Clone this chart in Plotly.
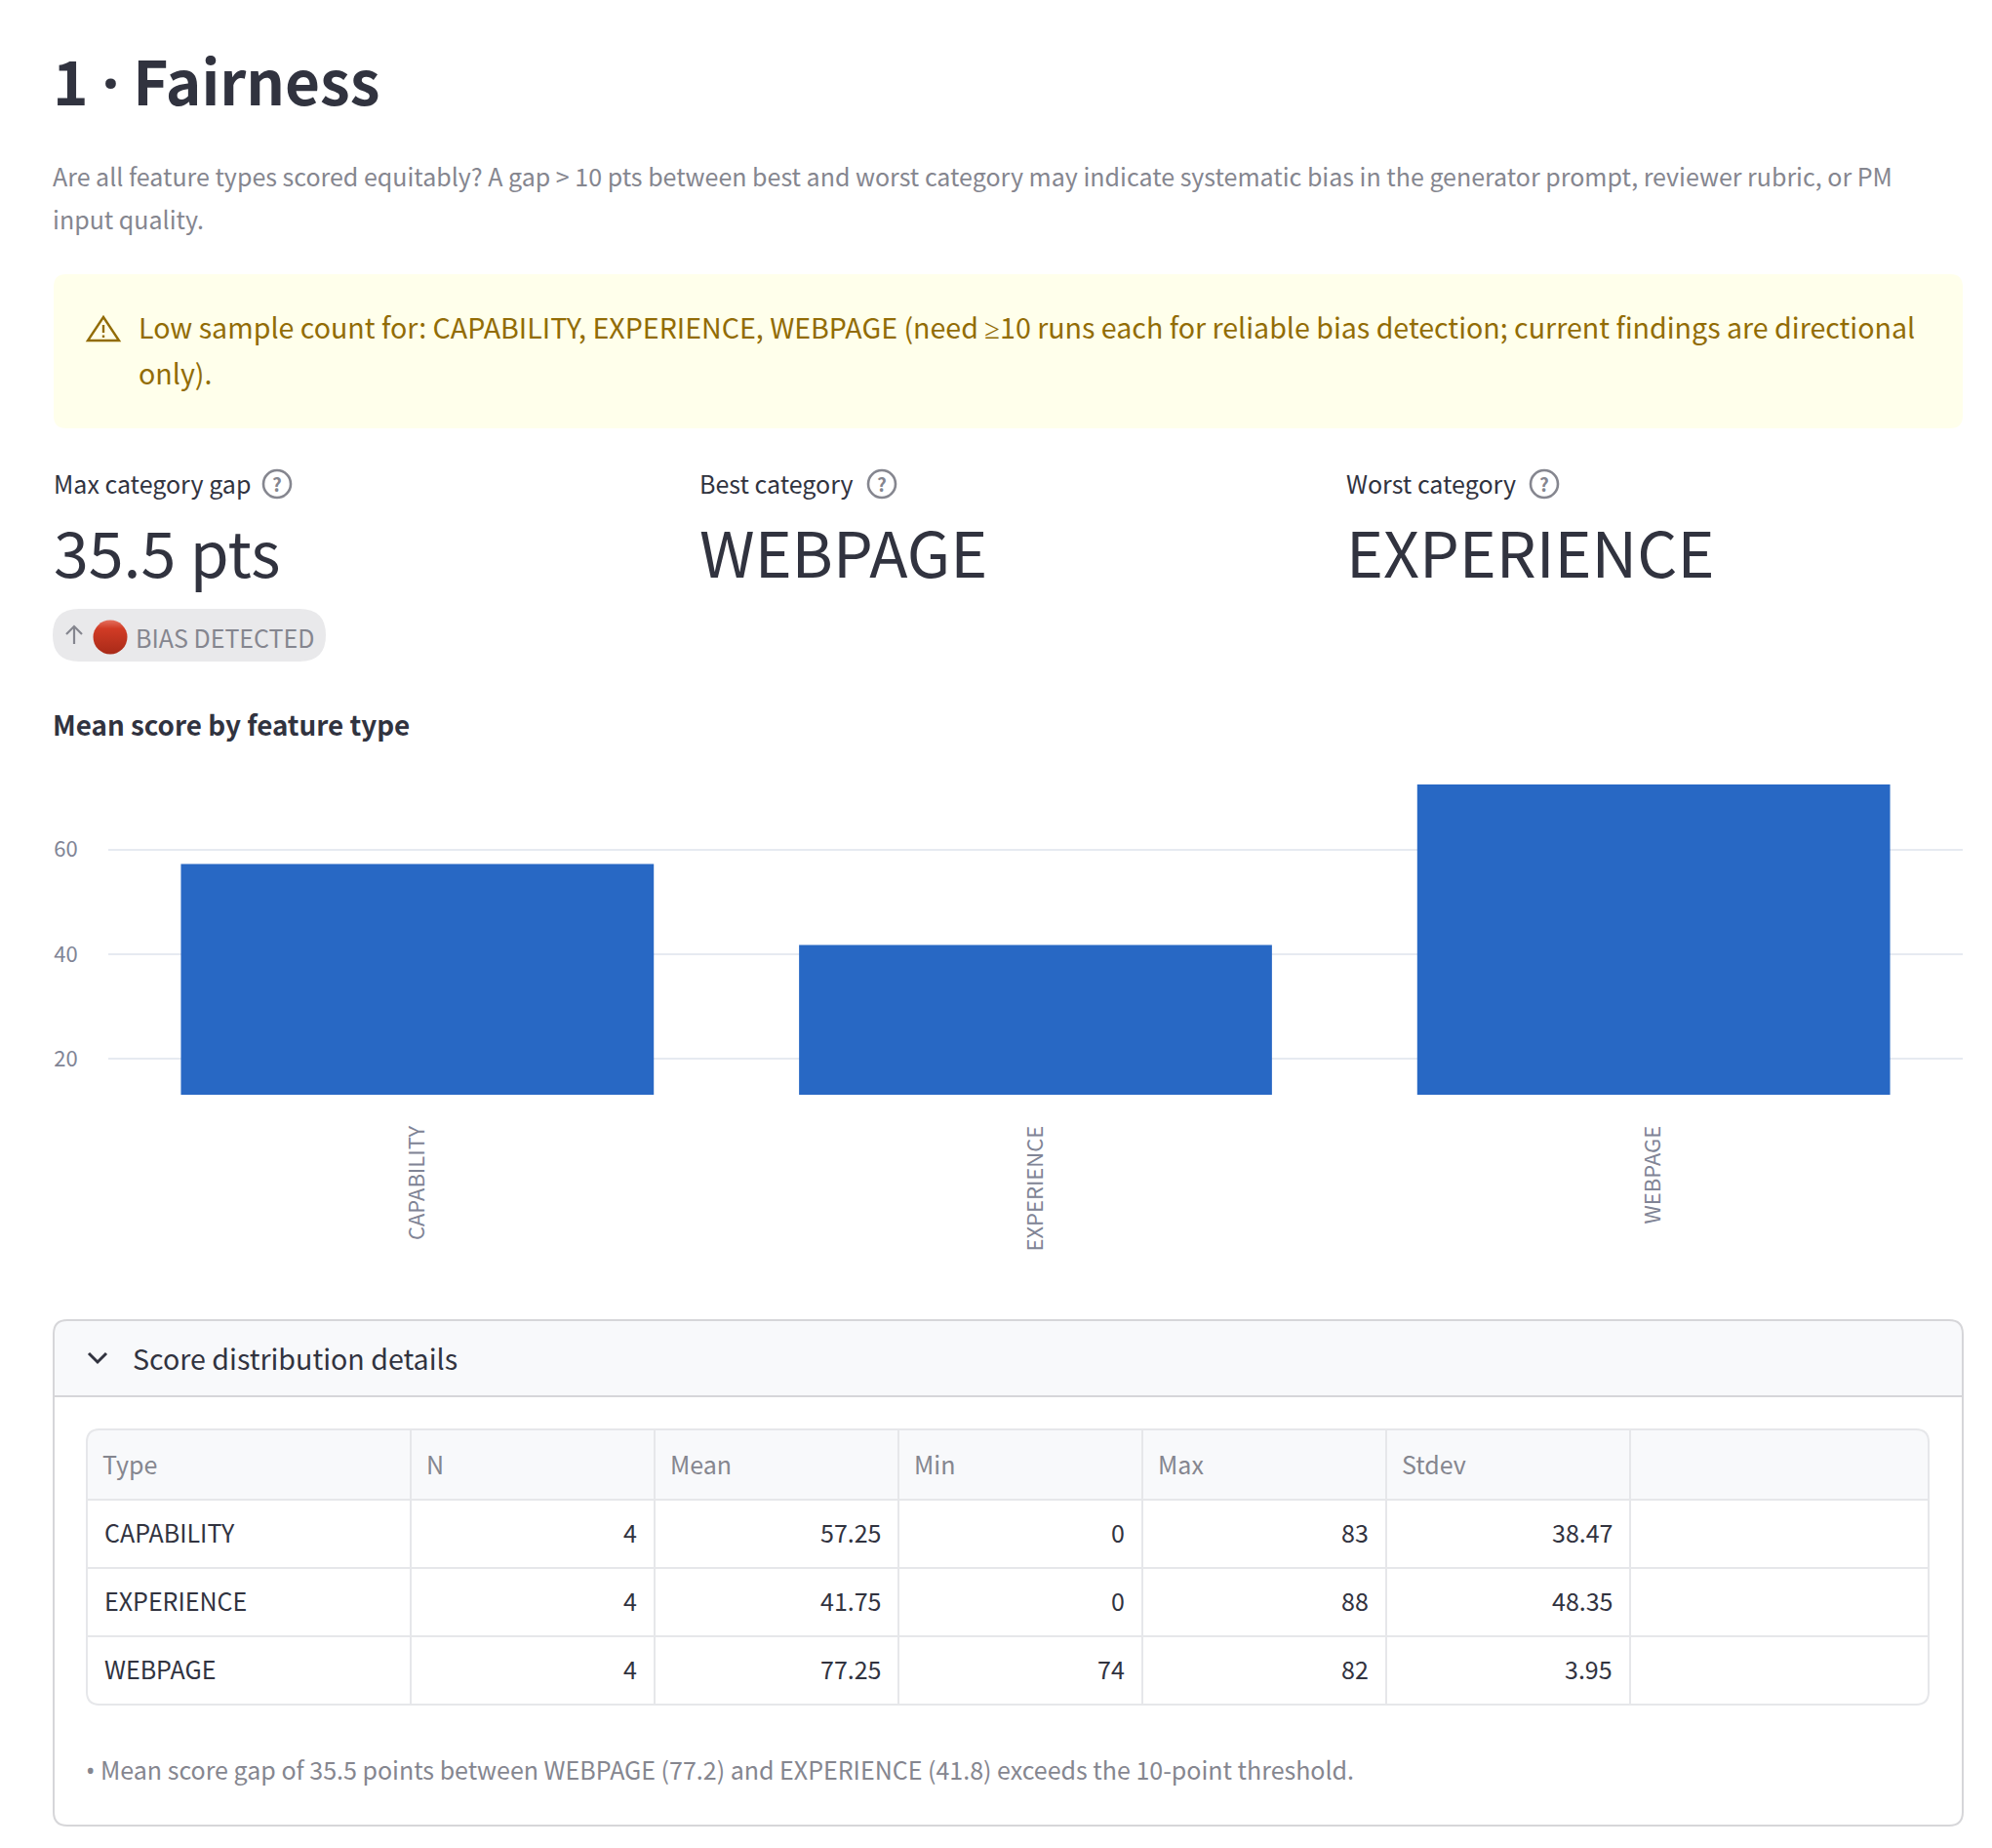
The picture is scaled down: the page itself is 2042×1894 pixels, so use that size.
import plotly.graph_objects as go

# Feature-type score summary
categories = ["CAPABILITY", "EXPERIENCE", "WEBPAGE"]
run_counts = [4, 4, 4]
mean_scores = [57.25, 41.75, 77.25]
min_scores = [0, 0, 74]
max_scores = [83, 88, 82]
stdev_scores = [38.47, 48.35, 3.95]
table_headers = ["Type", "N", "Mean", "Min", "Max", "Stdev", ""]
y_ticks = [20, 40, 60]
y_window = [13.1, 72.45]

FONT = "Noto Sans CJK SC"
LATIN = "Noto Sans"


def latin(glyph):
    """Punctuation the CJK face sets full-width is taken from a Latin face."""
    return f'<span style="font-family:\'{LATIN}\'">{glyph}</span>'


page_title = f"1 {latin('·')} Fairness"
intro_lines = [
    "Are all feature types scored equitably? A gap > 10 pts between best and worst category may indicate systematic bias in the generator prompt, reviewer rubric, or PM",
    "input quality.",
]
alert_lines = [
    f"Low sample count for: CAPABILITY, EXPERIENCE, WEBPAGE (need {latin('≥')}10 runs each for reliable bias detection; current findings are directional",
    "only).",
]
metric_labels = ["Max category gap", "Best category", "Worst category"]
metric_values = ["35.5 pts", "WEBPAGE", "EXPERIENCE"]
badge_text = "BIAS DETECTED"
chart_title = "Mean score by feature type"
details_title = "Score distribution details"
footnote = f"{latin('•')} Mean score gap of 35.5 points between WEBPAGE (77.2) and EXPERIENCE (41.8) exceeds the 10-point threshold."

W, H = 2042, 1894
INK = "#31333f"
MUTED = "#85868f"
TICK = "#808495"
GRID = "#e6eaf1"
EDGE = "#d6d6d9"
CELL_EDGE = "#e6e7ea"
HEAD_FILL = "#f8f9fb"
BODY_SIZE = 25


def px(x):
    return x / W


def py(y):
    return 1 - y / H


def round_rect(x0, y0, x1, y1, r, corners="tl tr br bl"):
    """SVG path in paper coordinates for a rectangle with selected rounded corners."""
    c = corners.split()
    tl, tr, br, bl = [r if k in c else 0 for k in ("tl", "tr", "br", "bl")]
    P = lambda x, y: f"{px(x):.6f},{py(y):.6f}"
    return (
        f"M{P(x0 + tl, y0)} L{P(x1 - tr, y0)} Q{P(x1, y0)} {P(x1, y0 + tr)} "
        f"L{P(x1, y1 - br)} Q{P(x1, y1)} {P(x1 - br, y1)} "
        f"L{P(x0 + bl, y1)} Q{P(x0, y1)} {P(x0, y1 - bl)} "
        f"L{P(x0, y0 + tl)} Q{P(x0, y0)} {P(x0 + tl, y0)} Z"
    )


def polyline(points, close=False):
    body = " L".join(f"{px(x):.6f},{py(y):.6f}" for x, y in points)
    return "M" + body + (" Z" if close else "")


shapes = []
annotations = []


def add_path(path, fill="rgba(0,0,0,0)", line=None, width=0, layer="below"):
    shapes.append(dict(type="path", xref="paper", yref="paper", path=path, fillcolor=fill,
                       line=dict(color=line or "rgba(0,0,0,0)", width=width), layer=layer))


def add_line(x0, y0, x1, y1, color, width=2):
    shapes.append(dict(type="line", xref="paper", yref="paper", x0=px(x0), x1=px(x1),
                       y0=py(y0), y1=py(y1), line=dict(color=color, width=width), layer="below"))


def add_text(text, x, y, size, color=INK, anchor="left", bold=False, family=FONT):
    annotations.append(dict(
        text=f"<b>{text}</b>" if bold else text, x=px(x), y=py(y), xref="paper", yref="paper",
        xanchor=anchor, yanchor="middle", showarrow=False, borderpad=0, borderwidth=0,
        font=dict(family=family, size=size, color=color)))


def add_help_icon(cx, cy):
    r = 14
    shapes.append(dict(type="circle", xref="paper", yref="paper", x0=px(cx - r), x1=px(cx + r),
                       y0=py(cy + r), y1=py(cy - r), line=dict(color=MUTED, width=2.6),
                       fillcolor="rgba(0,0,0,0)", layer="above"))
    add_text("?", cx, cy, 19, color=MUTED, anchor="center", bold=True)


# Heading and introduction
add_text(page_title, 54, 81, 62, bold=True)
add_text(intro_lines[0], 54, 180, BODY_SIZE, color=MUTED)
add_text(intro_lines[1], 54, 224, BODY_SIZE, color=MUTED)

# Low-sample alert
add_path(round_rect(55, 281, 2012, 439, 13), fill="#ffffeb")
add_text(alert_lines[0], 142, 334.5, 28.6, color="#926c05")
add_text(alert_lines[1], 142, 382, 28.6, color="#926c05")
add_path(polyline([(106, 325), (122, 349), (90, 349)], close=True), line="#926c05", width=2.4)
add_line(106, 333, 106, 341, "#926c05", 2.4)
add_line(106, 343.5, 106, 346, "#926c05", 2.4)

# Metric row
for x0, label, value, icon_x in zip((54.5, 717, 1380), metric_labels, metric_values, (284, 904, 1583)):
    add_text(label, x0, 495, BODY_SIZE)
    add_text(value, x0, 564, 64.5)
    add_help_icon(icon_x, 496)

# Delta badge
add_path(round_rect(54, 624, 334, 678, 27), fill="#e9e9eb")
add_path(polyline([(76, 660), (76, 642)]), line=MUTED, width=2.2)
add_path(polyline([(68, 650), (76, 642), (84, 650)]), line=MUTED, width=2.2)
add_text(badge_text, 139, 653, BODY_SIZE, color=MUTED)

# Chart heading
add_text(chart_title, 54, 742, 27.8, bold=True)

# Details panel
add_path(round_rect(55, 1353, 2012, 1431, 14, "tl tr"), fill=HEAD_FILL)
add_path(round_rect(55, 1353, 2012, 1871, 14), line=EDGE, width=2)
add_line(55, 1431, 2012, 1431, EDGE, 2)
add_path(polyline([(91, 1387), (100, 1396), (109, 1387)]), line=INK, width=3)
add_text(details_title, 136, 1391, 28.6)

# Statistics table
col_edges = [89, 421, 671, 921, 1171, 1421, 1671, 1977]
row_edges = [1465, 1537, 1607, 1677, 1747]
add_path(round_rect(89, 1465, 1977, 1537, 13, "tl tr"), fill=HEAD_FILL)
add_path(round_rect(89, 1465, 1977, 1747, 13), line=CELL_EDGE, width=2)
for y in row_edges[1:-1]:
    add_line(89, y, 1977, y, CELL_EDGE, 2)
for x in col_edges[1:-1]:
    add_line(x, 1465, x, 1747, CELL_EDGE, 2)

for i, head in enumerate(table_headers):
    if head:
        add_text(head, col_edges[i] + 16, 1500, BODY_SIZE, color=MUTED)

columns = [run_counts, mean_scores, min_scores, max_scores, stdev_scores]
for r, name in enumerate(categories):
    cy = (row_edges[r + 1] + row_edges[r + 2]) / 2 - 2.5
    add_text(name, 107, cy, BODY_SIZE)
    for c, col in enumerate(columns):
        add_text(str(col[r]), col_edges[c + 2] - 18, cy, BODY_SIZE, anchor="right")

add_text(footnote, 88, 1813, BODY_SIZE, color=MUTED)

# Emoji-style red status dot
dot_svg = (
    "data:image/svg+xml;utf8,<svg xmlns='http://www.w3.org/2000/svg' viewBox='0 0 36 36'>"
    "<defs><linearGradient id='g' x1='0' y1='0' x2='0' y2='1'>"
    "<stop offset='0' stop-color='%23e4705e'/><stop offset='0.25' stop-color='%23d13b25'/>"
    "<stop offset='1' stop-color='%23a82a18'/></linearGradient></defs>"
    "<circle cx='18' cy='18' r='17.5' fill='url(%23g)'/></svg>"
)

fig = go.Figure(go.Bar(x=categories, y=mean_scores, marker=dict(color="#2868c4", line=dict(width=0)), width=0.765))
fig.update_layout(
    width=W, height=H, margin=dict(l=0, r=0, t=0, b=0),
    paper_bgcolor="white", plot_bgcolor="white", showlegend=False,
    shapes=shapes, annotations=annotations,
    images=[dict(source=dot_svg, xref="paper", yref="paper", x=px(95), y=py(635),
                 sizex=36 / W, sizey=36 / H, sizing="stretch", xanchor="left", yanchor="top", layer="above")],
    xaxis=dict(domain=[px(111), px(2012)], tickangle=-90, ticks="outside", ticklen=22,
               tickcolor="rgba(0,0,0,0)", showgrid=False, zeroline=False, showline=False,
               tickfont=dict(family=FONT, size=22, color=TICK)),
    yaxis=dict(domain=[py(1122), py(804)], range=y_window, tickmode="array", tickvals=y_ticks,
               ticks="outside", ticklen=26, tickcolor="rgba(0,0,0,0)", gridcolor=GRID, gridwidth=2,
               zeroline=False, showline=False, tickfont=dict(family=FONT, size=22, color=TICK)),
)
fig.write_html("out.html")
